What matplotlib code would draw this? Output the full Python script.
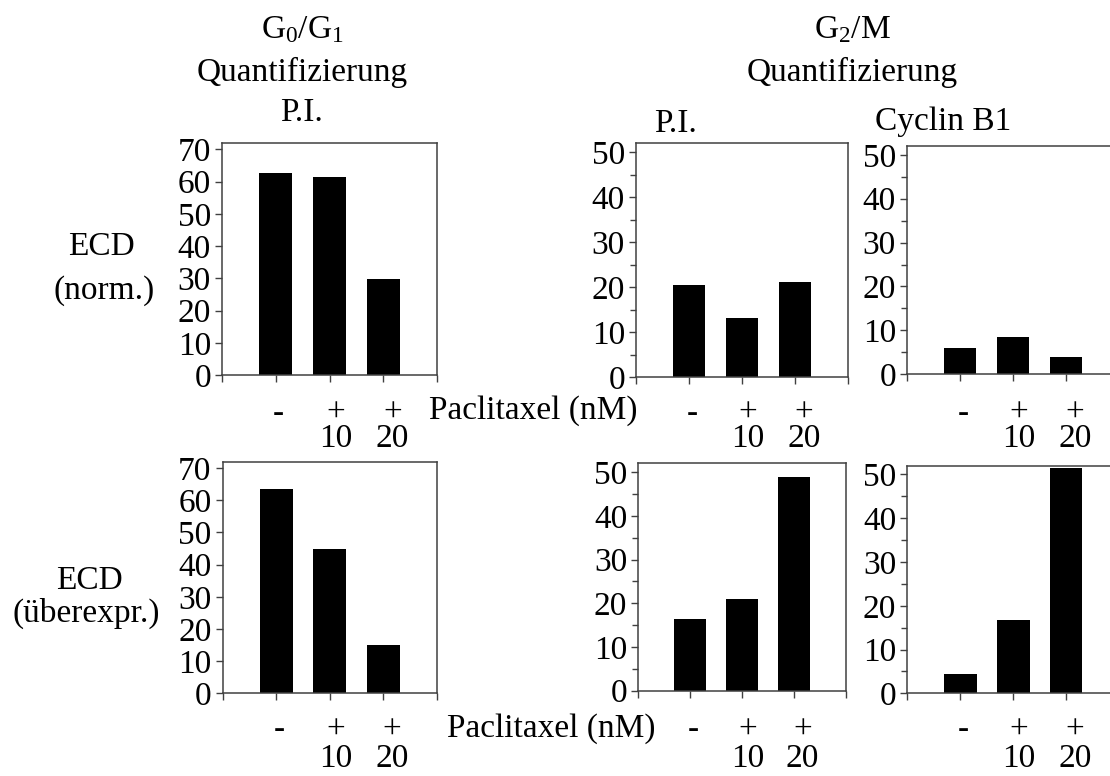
import matplotlib
matplotlib.use("Agg")
import matplotlib.pyplot as plt
from matplotlib.ticker import MultipleLocator
from matplotlib.transforms import blended_transform_factory

plt.rcParams['font.family'] = ['Liberation Serif', 'DejaVu Serif']
plt.rcParams['font.size'] = 24
plt.rcParams['mathtext.fontset'] = 'custom'
plt.rcParams['mathtext.rm'] = 'Liberation Serif'
plt.rcParams['mathtext.it'] = 'Liberation Serif:italic'

# data
treatment = ["-", "+", "+"]
dose = ["", "10", "20"]
g0g1_pi_norm = [62.8, 61.4, 29.8]
g2m_pi_norm = [20.5, 13.2, 21.2]
g2m_cyclin_norm = [6.0, 8.5, 3.9]
g0g1_pi_over = [63.4, 44.8, 15.1]
g2m_pi_over = [16.4, 20.9, 48.9]
g2m_cyclin_over = [4.3, 16.7, 51.4]

fig = plt.figure(figsize=(11.1, 7.76), dpi=100)
W, H = 1110, 776

def box(x0, x1, ytop, ybot):
    return [x0 / W, 1 - ybot / H, (x1 - x0) / W, (ybot - ytop) / H]

panels = [
    (box(222, 437, 143, 375), g0g1_pi_norm, 72, 0),
    (box(636, 848, 143, 377.3), g2m_pi_norm, 52, 0),
    (box(907, 1119, 146, 374.3), g2m_cyclin_norm, 52, 0),
    (box(222.7, 436.7, 461.7, 693.3), g0g1_pi_over, 72, 1),
    (box(638.3, 845.7, 463.3, 690.7), g2m_pi_over, 52, 1),
    (box(907.3, 1119, 465.7, 693.3), g2m_cyclin_over, 52, 1),
]

# baseline of the dose row (px from top) and line spacing per row
row_base = [(447, 0.76), (767, 0.92)]
edge = '#404040'

for rect, vals, ymax, row in panels:
    ax = fig.add_axes(rect)
    x = [1, 2, 3]
    ax.bar(x, vals, width=0.62, color='black')
    ax.set_xlim(0, 4)
    ax.set_ylim(0, ymax)
    ax.set_xticks([0, 1, 2, 3, 4])
    ax.set_xticklabels([])
    ax.yaxis.set_major_locator(MultipleLocator(10))
    if ymax < 60:
        ax.yaxis.set_minor_locator(MultipleLocator(5))
    ax.tick_params(direction='out', length=5, width=1, color=edge, pad=3)
    ax.tick_params(which='minor', direction='out', length=4, width=1, color=edge)
    for s in ax.spines.values():
        s.set_color(edge)
        s.set_linewidth(1.1)
    tr = blended_transform_factory(ax.transData, fig.transFigure)
    yb, ls = row_base[row]
    for xi, t, d in zip(x, treatment, dose):
        dx = 3 if t == "-" else (6 if d == "10" else 9)
        label = t + "\n" + (d if d else " ")
        ax.text(xi + dx / 53.5, 1 - yb / H, label, transform=tr, ha='center',
                va='baseline', multialignment='center', linespacing=ls)

fig.text(429 / W, 1 - 411 / H, "Paclitaxel (nM)", ha='left', va='center')
fig.text(447 / W, 1 - 729 / H, "Paclitaxel (nM)", ha='left', va='center')

fig.text(101 / W, 1 - 247 / H, "ECD", ha='center', va='center')
fig.text(104 / W, 1 - 291 / H, "(norm.)", ha='center', va='center')
fig.text(89 / W, 1 - 581 / H, "ECD", ha='center', va='center')
fig.text(86 / W, 1 - 613 / H, "(überexpr.)", ha='center', va='center')

fig.text(302 / W, 1 - 30 / H, r"G$_\mathregular{0}$/G$_\mathregular{1}$", ha='center', va='center')
fig.text(302 / W, 1 - 72 / H, "Quantifizierung", ha='center', va='center')
fig.text(302 / W, 1 - 113 / H, "P.I.", ha='center', va='center')
fig.text(852 / W, 1 - 30 / H, r"G$_\mathregular{2}$/M", ha='center', va='center')
fig.text(852 / W, 1 - 72 / H, "Quantifizierung", ha='center', va='center')
fig.text(676 / W, 1 - 124 / H, "P.I.", ha='center', va='center')
fig.text(943 / W, 1 - 122 / H, "Cyclin B1", ha='center', va='center')

fig.savefig("out.png", dpi=100)
